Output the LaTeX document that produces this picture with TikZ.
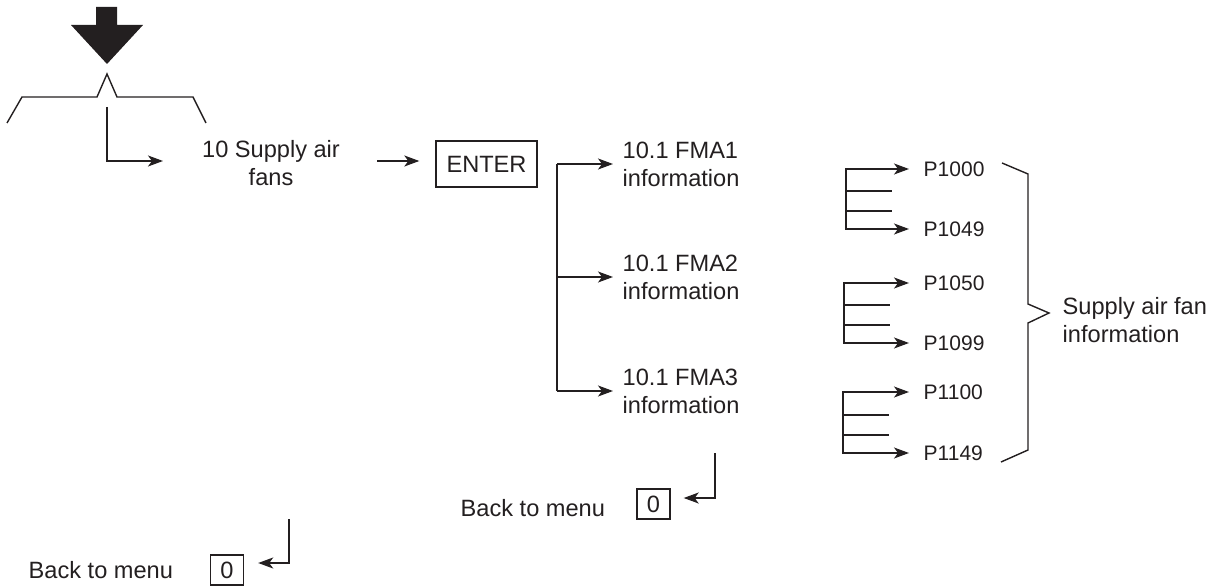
\documentclass[tikz,border=0pt]{standalone}
\usepackage{fontspec}
\setmainfont{Liberation Sans}
\usetikzlibrary{arrows.meta,positioning}
\definecolor{ink}{HTML}{231F20}

\begin{document}
\begin{tikzpicture}[
  x=0.5pt, y=-0.5pt, line width=0.7pt, color=ink,
  txt/.style={font=\fontsize{11.8}{14}\selectfont, inner sep=4.5pt},
  pl/.style={font=\fontsize{10.5}{12}\selectfont, anchor=west, inner sep=7pt},
  key/.style={txt, draw, inner sep=0pt, minimum width=16.5pt, minimum height=15pt},
  e/.style={-{Stealth[length=7.5pt, width=5.5pt, inset=2pt]}}
]
\useasboundingbox (0,0) rectangle (1213,587);
% menu entry
\fill (96,7) -- (117,7) -- (117,25) -- (143,25) -- (107,64) -- (71,25) -- (96,25) -- cycle;
\coordinate (tip) at (107,74);
\draw (7,123) -- (22,97) -- (97,97) -- (tip) -- (117,97) -- (193,97) -- (206,123);
\node[txt, align=center] (saf) at (271,163) {10 Supply air\\fans};
\node[txt, draw, minimum width=50.5pt, minimum height=23pt] (enter) at (486.5,164) {ENTER};
\node[txt, anchor=west, align=left] (fma1) at (613,164) {10.1 FMA1\\information};
\node[txt, anchor=west, align=left] (fma2) at (613,277) {10.1 FMA2\\information};
\node[txt, anchor=west, align=left] (fma3) at (613,391) {10.1 FMA3\\information};
% parameters
\node[pl] (p1000) at (909,169) {P1000};
\node[pl] (p1049) at (909,229) {P1049};
\node[pl] (p1050) at (909,283) {P1050};
\node[pl] (p1099) at (909,343) {P1099};
\node[pl] (p1100) at (909,392) {P1100};
\node[pl] (p1149) at (909,453) {P1149};
\node[txt, anchor=west, align=left] (info) at (1053,320) {Supply air fan\\information};
% back keys
\node[txt, anchor=west] (back1) at (451,508) {Back to menu};
\node[key] (zero1) at (653.5,504) {0};
\node[txt, anchor=west] (back2) at (19,570) {Back to menu};
\node[key] (zero2) at (227,570) {0};
% connectors
\coordinate (b0) at (107,107);
\coordinate (b1) at (163,161);
\draw[e] (b0) |- (b1);
\coordinate (o1) at (377,161);
\draw[e, shorten >=8pt] (o1) -- (o1 -| enter.west);
\coordinate (tr) at (557,0);
\draw (tr |- fma1.west) -- (tr |- fma3.west);
\foreach \n in {fma1,fma2,fma3} \draw[e] (tr |- \n.west) -- (\n.west);
\coordinate (g1) at (846,0);
\coordinate (g2) at (844,0);
\coordinate (g3) at (843,0);
\draw[e] (g1 |- p1049.west) |- (p1000.west);
\draw[e] (g1 |- p1000.west) |- (p1049.west);
\draw (g1 |- 0,191) -- (892,191) (g1 |- 0,211) -- (892,211);
\draw[e] (g2 |- p1099.west) |- (p1050.west);
\draw[e] (g2 |- p1050.west) |- (p1099.west);
\draw (g2 |- 0,305) -- (890,305) (g2 |- 0,325) -- (890,325);
\draw[e] (g3 |- p1149.west) |- (p1100.west);
\draw[e] (g3 |- p1100.west) |- (p1149.west);
\draw (g3 |- 0,415) -- (889,415) (g3 |- 0,435) -- (889,435);
\draw (1002,163) -- (1028,174) -- (1028,304) -- (1049,313) -- (1028,323) -- (1028,450) -- (1001,462);
\coordinate (d1) at (715,453);
\draw[e, shorten >=6.5pt] (d1) |- ([yshift=3pt]zero1.east);
\coordinate (d2) at (289,519);
\draw[e, shorten >=7pt] (d2) |- ([yshift=3.5pt]zero2.east);
\end{tikzpicture}
\end{document}
